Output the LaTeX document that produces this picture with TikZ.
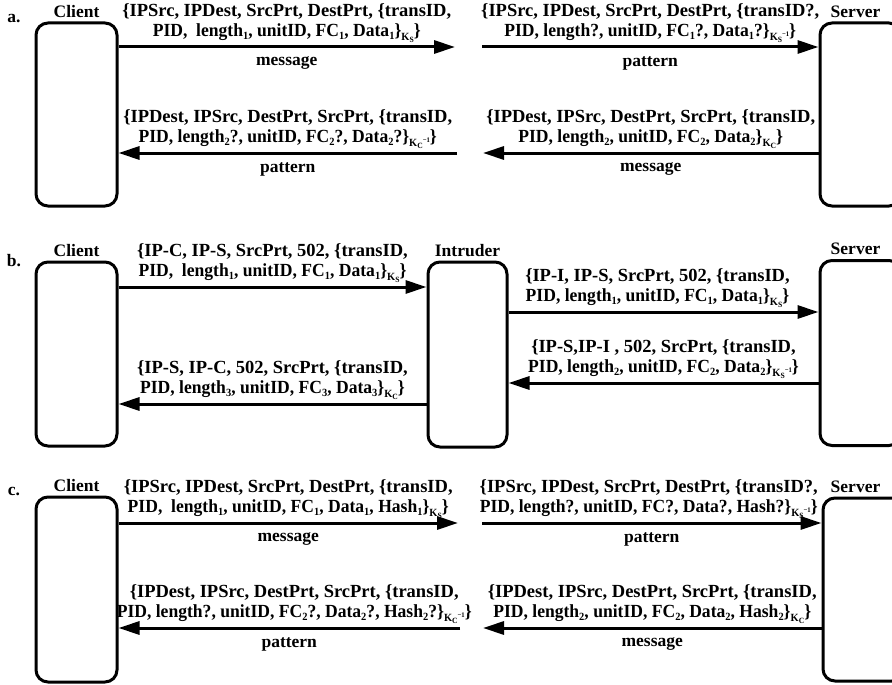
\documentclass[tikz,border=0pt]{standalone}
\usepackage{fontspec}
\setmainfont{Liberation Serif}
\usetikzlibrary{arrows.meta,positioning}

\newcommand{\sbs}[1]{\raisebox{-3pt}{\fontsize{11}{11}\selectfont #1}}
\newcommand{\kk}[1]{\raisebox{-4pt}{\fontsize{11}{11}\selectfont
    K\raisebox{-1.5pt}{\fontsize{8}{8}\selectfont #1}}}
\newcommand{\kinv}[1]{\raisebox{-4pt}{\fontsize{11}{11}\selectfont
    K\raisebox{-1.5pt}{\fontsize{8}{8}\selectfont #1}%
    \raisebox{4.5pt}{\fontsize{7}{7}\selectfont −1}}}
% second text line is set a little narrower
\newcommand{\tight}[1]{\scalebox{0.95}[1]{#1}}

\begin{document}
\begin{tikzpicture}[x=1pt, y=-1pt,
    party/.style={draw, line width=3pt, rounded corners=12pt,
        minimum width=81pt, inner sep=0pt},
    who/.style={font=\bfseries\fontsize{17.5}{19}\selectfont, inner sep=1pt},
    msg/.style={line width=3pt, -{Triangle[length=21pt, width=13pt]}},
    txt/.style={font=\bfseries\fontsize{18.5}{20.5}\selectfont, align=center,
        anchor=south, inner sep=1pt, yshift=2pt},
    tag/.style={font=\bfseries\fontsize{17.5}{19}\selectfont,
        anchor=north, inner sep=1pt, yshift=-7pt},
]
\useasboundingbox (0,0) rectangle (892,685);

% a. client and server, plain messages
\node[who] (la) at (14,19) {a.};
\node[party, minimum height=183pt] (cliA) at (76.5,114.5) {};
\node[party, minimum height=183pt] (srvA) at (860.5,114.5) {};
\node[who, above=3pt of cliA] (cliAl) {Client};
\node[who, above=3pt of srvA, xshift=-5pt] (srvAl) {Server};

\coordinate (a1) at (455,47);
\coordinate (a2) at (482,47);
\coordinate (a3) at (457,153);
\coordinate (a4) at (483,153);

\draw[msg] (cliA.east |- a1) -- node[txt] (a1t)
    {\{IPSrc, IPDest, SrcPrt, DestPrt, \{transID,\\
     \tight{PID,~ length\sbs{1}, unitID, FC\sbs{1}, Data\sbs{1}\}\kk{S}\}}}
    node[tag] (a1m) {message} (a1);
\draw[msg] (a2) -- node[txt] (a2t)
    {\{IPSrc, IPDest, SrcPrt, DestPrt, \{transID?,\\
     \tight{PID, length?, unitID, FC\sbs{1}?, Data\sbs{1}?\}\kinv{S}\}}}
    node[tag] (a2m) {pattern} (srvA.west |- a2);
\draw[msg] (a3) -- node[txt] (a3t)
    {\{IPDest, IPSrc, DestPrt, SrcPrt, \{transID,\\
     \tight{PID, length\sbs{2}?, unitID, FC\sbs{2}?, Data\sbs{2}?\}\kinv{C}\}}}
    node[tag] (a3m) {pattern} (cliA.east |- a3);
\draw[msg] (srvA.west |- a4) -- node[txt] (a4t)
    {\{IPDest, IPSrc, DestPrt, SrcPrt, \{transID,\\
     \tight{PID, length\sbs{2}, unitID, FC\sbs{2}, Data\sbs{2}\}\kk{C}\}}}
    node[tag] (a4m) {message} (a4);

% b. intruder in the middle
\node[who] (lb) at (14,261) {b.};
\node[party, minimum height=184pt] (cliB) at (76.5,354) {};
\node[party, minimum width=79pt, minimum height=185pt] (intB) at (467.5,354.5) {};
\node[party, minimum height=185pt] (srvB) at (860.5,353) {};
\node[who, above=3pt of cliB] (cliBl) {Client};
\node[who, above=3pt of intB] (intBl) {Intruder};
\node[who, above=3pt of srvB, xshift=-5pt] (srvBl) {Server};

\draw[msg] (cliB.east |- 0,287) -- node[txt] (b1t)
    {\{IP-C, IP-S, SrcPrt, 502, \{transID,\\
     \tight{PID,~ length\sbs{1}, unitID, FC\sbs{1}, Data\sbs{1}\}\kk{S}\}}}
    (intB.west |- 0,287);
\draw[msg] (intB.east |- 0,312) -- node[txt, xshift=-6pt] (b2t)
    {\{IP-I, IP-S, SrcPrt, 502, \{transID,\\
     \tight{PID, length\sbs{1}, unitID, FC\sbs{1}, Data\sbs{1}\}\kk{S}\}}}
    (srvB.west |- 0,312);
\draw[msg] (srvB.west |- 0,383) -- node[txt] (b3t)
    {\{IP-S,IP-I , 502, SrcPrt, \{transID,\\
     \tight{PID, length\sbs{2}, unitID, FC\sbs{2}, Data\sbs{2}\}\kinv{S}\}}}
    (intB.east |- 0,383);
\draw[msg] (intB.west |- 0,404) -- node[txt] (b4t)
    {\{IP-S, IP-C, 502, SrcPrt, \{transID,\\
     \tight{PID, length\sbs{3}, unitID, FC\sbs{3}, Data\sbs{3}\}\kk{C}\}}}
    (cliB.east |- 0,404);

% c. messages carrying a hash
\node[who] (lc) at (14,491) {c.};
\node[party, minimum height=185pt] (cliC) at (76.5,589.5) {};
\node[party, minimum height=183pt] (srvC) at (863.5,589.5) {};
\node[who, above=3pt of cliC] (cliCl) {Client};
\node[who, above=3pt of srvC, xshift=-8pt] (srvCl) {Server};

\coordinate (c1) at (458,523);
\coordinate (c2) at (482,523);
\coordinate (c3) at (460,628);
\coordinate (c4) at (483,628);

\draw[msg] (cliC.east |- c1) -- node[txt] (c1t)
    {\{IPSrc, IPDest, SrcPrt, DestPrt, \{transID,\\
     \tight{PID,~ length\sbs{1}, unitID, FC\sbs{1}, Data\sbs{1}, Hash\sbs{1}\}\kk{S}\}}}
    node[tag] (c1m) {message} (c1);
\draw[msg] (c2) -- node[txt, xshift=-3pt] (c2t)
    {\{IPSrc, IPDest, SrcPrt, DestPrt, \{transID?,\\
     \tight{PID, length?, unitID, FC?, Data?, Hash?\}\kinv{S}\}}}
    node[tag] (c2m) {pattern} (srvC.west |- c2);
\draw[msg] (c3) -- node[txt, xshift=5pt] (c3t)
    {\{IPDest, IPSrc, DestPrt, SrcPrt, \{transID,\\
     \tight{PID, length?, unitID, FC\sbs{2}?, Data\sbs{2}?, Hash\sbs{2}?\}\kinv{C}\}}}
    node[tag] (c3m) {pattern} (cliC.east |- c3);
\draw[msg] (srvC.west |- c4) -- node[txt] (c4t)
    {\{IPDest, IPSrc, DestPrt, SrcPrt, \{transID,\\
     \tight{PID, length\sbs{2}, unitID, FC\sbs{2}, Data\sbs{2}, Hash\sbs{2}\}\kk{C}\}}}
    node[tag] (c4m) {message} (c4);

\end{tikzpicture}
\end{document}
